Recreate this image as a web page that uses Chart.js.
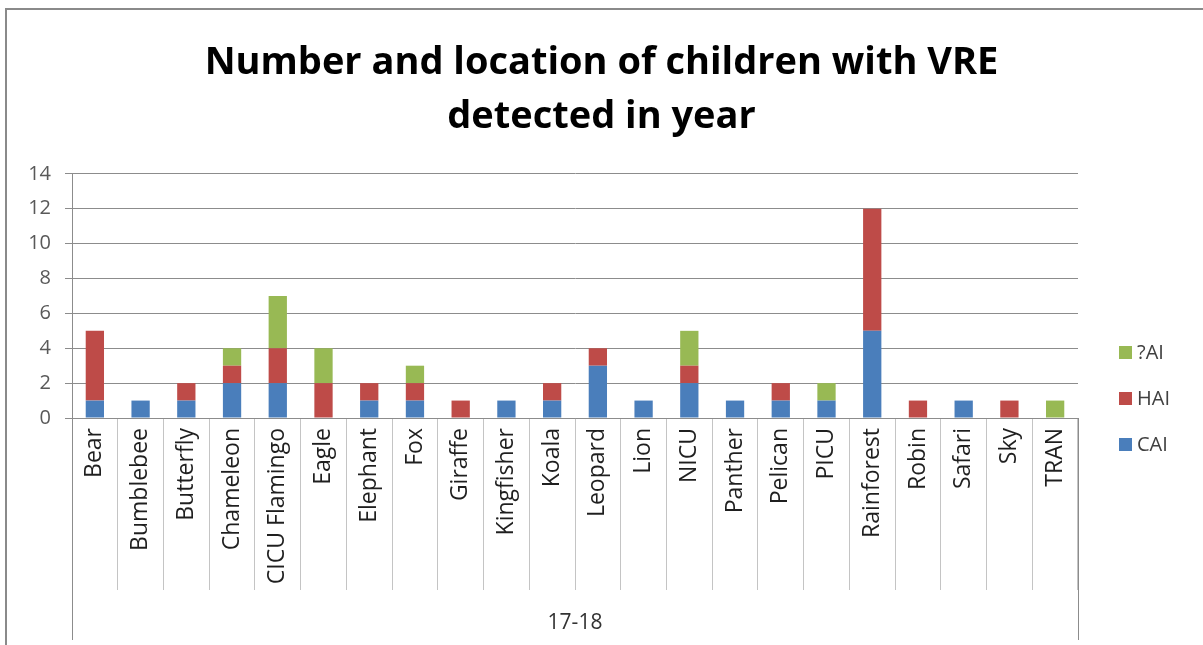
<!DOCTYPE html>
<html>
<head>
<meta charset="utf-8">
<title>VRE by ward</title>
<script src="https://cdn.jsdelivr.net/npm/chart.js@4.4.0/dist/chart.umd.min.js"></script>
<style>
  body { margin: 0; background: #fff; }
  #wrap { width: 1203px; height: 645px; }
</style>
</head>
<body>
<div id="wrap"><canvas id="vreChart" width="1203" height="645"></canvas></div>
<script>
// wards and counts for 17-18
var wards = ['Bear', 'Bumblebee', 'Butterfly', 'Chameleon', 'CICU Flamingo', 'Eagle', 'Elephant',
  'Fox', 'Giraffe', 'Kingfisher', 'Koala', 'Leopard', 'Lion', 'NICU', 'Panther', 'Pelican',
  'PICU', 'Rainforest', 'Robin', 'Safari', 'Sky', 'TRAN'];
var caiValues = [1, 1, 1, 2, 2, 0, 1, 1, 0, 1, 1, 3, 1, 2, 1, 1, 1, 5, 0, 1, 0, 0];
var haiValues = [4, 0, 1, 1, 2, 2, 1, 1, 1, 0, 1, 1, 0, 1, 0, 1, 0, 7, 1, 0, 1, 0];
var unknownValues = [0, 0, 0, 1, 3, 2, 0, 1, 0, 0, 0, 0, 0, 2, 0, 0, 1, 0, 0, 0, 0, 1];
var seriesNames = ['CAI', 'HAI', '?AI'];
var yMax = 14;
var yStep = 2;
var yearLabel = '17-18';
var chartTitle = ['Number and location of children with VRE', 'detected in year'];

Chart.defaults.font.family = '"Open Sans"';

var lineGrey = '#8c8c8c';

// frame, long edge lines under the axis and the legend on the right
var extras = {
  id: 'extras',
  beforeDraw: function(chart) {
    var ctx = chart.ctx;
    ctx.save();
    ctx.strokeStyle = '#8a8a8a';
    ctx.lineWidth = 2;
    ctx.beginPath();
    ctx.moveTo(6, 645);
    ctx.lineTo(6, 9);
    ctx.lineTo(1203, 9);
    ctx.stroke();
    ctx.restore();
  },
  afterDraw: function(chart) {
    var ctx = chart.ctx;
    var area = chart.chartArea;
    var xs = chart.scales.x;
    ctx.save();
    ctx.strokeStyle = lineGrey;
    ctx.lineWidth = 1;
    [area.left, area.right].forEach(function(px) {
      ctx.beginPath();
      ctx.moveTo(Math.round(px) + 0.5, xs.top);
      ctx.lineTo(Math.round(px) + 0.5, xs.bottom - 5);
      ctx.stroke();
    });

    var sets = chart.data.datasets.slice().reverse();
    ctx.font = '20px "Open Sans"';
    ctx.textBaseline = 'middle';
    sets.forEach(function(ds, i) {
      var y = 353 + i * 46;
      ctx.fillStyle = ds.backgroundColor;
      ctx.fillRect(1119, y - 7, 13, 13);
      ctx.fillStyle = '#404040';
      ctx.fillText(ds.label, 1137, y);
    });
    ctx.restore();
  }
};

new Chart('vreChart', {
  type: 'bar',
  data: {
    labels: wards,
    datasets: [
      { label: seriesNames[0], data: caiValues, backgroundColor: '#4a7ebb' },
      { label: seriesNames[1], data: haiValues, backgroundColor: '#be4b48' },
      { label: seriesNames[2], data: unknownValues, backgroundColor: '#98b954' }
    ]
  },
  options: {
    responsive: false,
    animation: false,
    categoryPercentage: 1,
    barPercentage: 0.4,
    layout: { padding: 0 },
    plugins: {
      legend: { display: false },
      tooltip: { enabled: false },
      title: {
        display: true,
        text: chartTitle,
        color: '#000',
        font: { size: 38, weight: 'bold', lineHeight: 1.42 },
        padding: { top: 36, bottom: 30 }
      }
    },
    scales: {
      x: {
        stacked: true,
        grid: { offset: true, drawOnChartArea: false, tickLength: 172, color: '#c4c4c4' },
        border: { color: lineGrey },
        ticks: {
          autoSkip: false, minRotation: 90, maxRotation: 90, padding: -162,
          color: '#1f1f1f', font: { size: 23 }
        },
        title: { display: true, text: yearLabel, color: '#333', font: { size: 21 }, padding: { top: 0, bottom: 9 } },
        afterFit: function(scale) { scale.height = 227; }
      },
      y: {
        stacked: true,
        min: 0,
        max: yMax,
        ticks: { stepSize: yStep, padding: 14, color: '#595959', font: { size: 20 } },
        grid: { color: lineGrey, tickLength: 7 },
        border: { color: lineGrey },
        afterFit: function(scale) { scale.width = 72; }
      },
      // empty right-hand box that leaves room for the legend
      side: {
        position: 'right',
        display: true,
        grid: { display: false },
        border: { display: false },
        ticks: { display: false },
        afterFit: function(scale) { scale.width = 125; }
      }
    }
  },
  plugins: [extras]
});
</script>
</body>
</html>
